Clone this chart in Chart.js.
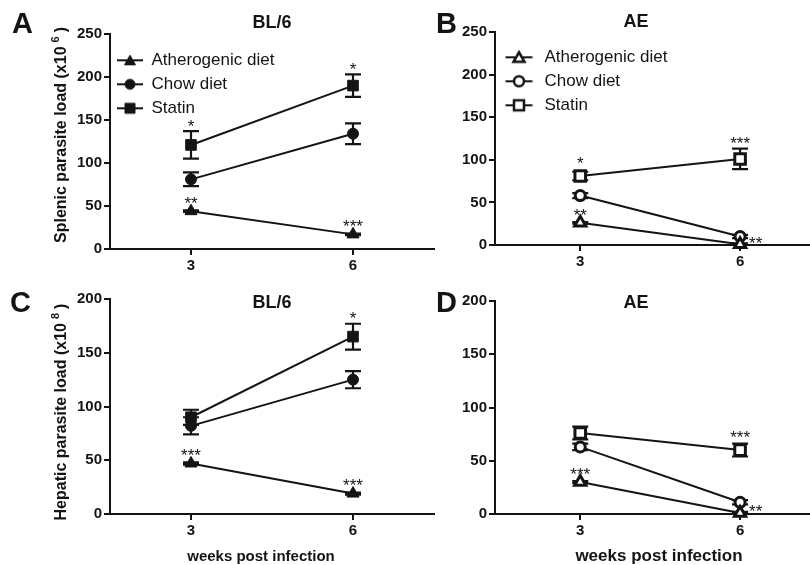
<!DOCTYPE html>
<html>
<head>
<meta charset="utf-8">
<script src="https://cdn.jsdelivr.net/npm/chart.js@4.4.1/dist/chart.umd.min.js"></script>
<style>
  html, body { margin: 0; padding: 0; background: #fff; }
  #wrap { position: relative; width: 810px; height: 565px; overflow: hidden; }
  #wrap canvas { position: absolute; left: 0; top: 0; }
</style>
</head>
<body>
<div id="wrap">
  <canvas id="cA" width="830" height="565"></canvas>
  <canvas id="cB" width="830" height="565"></canvas>
  <canvas id="cC" width="830" height="565"></canvas>
  <canvas id="cD" width="830" height="565"></canvas>
</div>
<script>
const weeks = [3, 6];
const seriesNames = ['Atherogenic diet', 'Chow diet', 'Statin'];
const spleenTicks = [0, 50, 100, 150, 200, 250];
const liverTicks = [0, 50, 100, 150, 200];

// rows: atherogenic, chow, statin -- columns: week 3, week 6
const spleenBL6 = [[44, 17], [81, 134], [121, 190]];
const spleenBL6Err = [[1, 1], [8, 12], [16, 13]];
const spleenBL6Sig = [['**', '***'], ['', ''], ['*', '*']];

const spleenAE = [[26, 1], [58, 10], [81, 101]];
const spleenAEErr = [[1, 1], [3, 2], [5, 12]];
const spleenAESig = [['**', '**'], ['', ''], ['*', '***']];

const liverBL6 = [[47, 19], [82, 125], [90, 165]];
const liverBL6Err = [[1, 1], [8, 8], [7, 12]];
const liverBL6Sig = [['***', '***'], ['', ''], ['', '*']];

const liverAE = [[30, 1], [63, 11], [76, 60]];
const liverAEErr = [[1, 1], [3, 2], [6, 6]];
const liverAESig = [['***', '**'], ['', ''], ['', '***']];

const FONT = "'Liberation Sans', Arial, sans-serif";
const INK = '#141414';
const styles = ['triangle', 'circle', 'rect'];

// panel layout (pixels on the page)
const panels = [
  { id: 'cA', letter: 'A', letterPos: [12, 33], title: 'BL/6', titleX: 272, titleY: 28,
    vals: spleenBL6, errs: spleenBL6Err, sig: spleenBL6Sig, ticks: spleenTicks, open: false,
    area: { l: 110, t: 34, r: 434, b: 249 }, xmin: 1.5, xmax: 7.5, legend: true, legendBox: 26, legendTop: 34,
    ytitle: ['Splenic parasite load (x10', '6', ')'], ytitleC: [62, 135] },
  { id: 'cB', letter: 'B', letterPos: [436, 33], title: 'AE', titleX: 636, titleY: 27,
    vals: spleenAE, errs: spleenAEErr, sig: spleenAESig, ticks: spleenTicks, open: true,
    area: { l: 495, t: 32, r: 820, b: 245 }, xmin: 1.4, xmax: 7.5, legend: true, legendBox: 34, legendTop: 31 },
  { id: 'cC', letter: 'C', letterPos: [10, 312], title: 'BL/6', titleX: 272, titleY: 308,
    vals: liverBL6, errs: liverBL6Err, sig: liverBL6Sig, ticks: liverTicks, open: false,
    area: { l: 110, t: 299, r: 434, b: 514 }, xmin: 1.5, xmax: 7.5, legend: false,
    ytitle: ['Hepatic parasite load (x10', '8', ')'], ytitleC: [62, 412],
    xtitle: 'weeks post infection', xtitlePos: [261, 561], xtitleSize: 15 },
  { id: 'cD', letter: 'D', letterPos: [436, 312], title: 'AE', titleX: 636, titleY: 308,
    vals: liverAE, errs: liverAEErr, sig: liverAESig, ticks: liverTicks, open: true,
    area: { l: 495, t: 301, r: 820, b: 514 }, xmin: 1.4, xmax: 7.5, legend: false,
    xtitle: 'weeks post infection', xtitlePos: [659, 561], xtitleSize: 17 }
];

function pointSize(style, open) {
  if (style === 'rect') return 7.5;
  if (style === 'triangle') return open ? 6.5 : 7;
  return open ? 5 : 5.5;
}

function makeIcon(style, open, w) {
  const c = document.createElement('canvas');
  c.width = w; c.height = 16;
  const g = c.getContext('2d');
  const cx = w / 2;
  g.strokeStyle = INK;
  g.lineWidth = 2;
  g.beginPath(); g.moveTo(cx - 13.5, 8); g.lineTo(cx + 13.5, 8); g.stroke();
  g.fillStyle = open ? '#fff' : INK;
  g.lineWidth = open ? 2.5 : 1;
  g.beginPath();
  if (style === 'triangle') { g.moveTo(cx, 3); g.lineTo(cx + 5.5, 12.5); g.lineTo(cx - 5.5, 12.5); g.closePath(); }
  else if (style === 'circle') g.arc(cx, 8, 5, 0, Math.PI * 2);
  else g.rect(cx - 5, 3, 10, 10);
  g.fill(); g.stroke();
  return c;
}

function makeDecor(p) {
  return {
    id: 'decor' + p.letter,
    beforeDatasetsDraw(chart) {
      const ctx = chart.ctx, xs = chart.scales.x, ys = chart.scales.y;
      ctx.save();
      ctx.strokeStyle = INK;
      ctx.lineWidth = 2.2;
      chart.data.datasets.forEach(ds => {
        ds.data.forEach((pt, j) => {
          const e = ds.errors[j];
          if (!e) return;
          const x = xs.getPixelForValue(pt.x);
          const y1 = ys.getPixelForValue(pt.y + e);
          const y0 = ys.getPixelForValue(Math.max(0, pt.y - e));
          ctx.beginPath();
          ctx.moveTo(x, y1); ctx.lineTo(x, y0);
          ctx.moveTo(x - 8, y1); ctx.lineTo(x + 8, y1);
          ctx.moveTo(x - 8, y0); ctx.lineTo(x + 8, y0);
          ctx.stroke();
        });
      });
      ctx.restore();
    },
    afterDatasetsDraw(chart) {
      // significance stars
      const ctx = chart.ctx, xs = chart.scales.x, ys = chart.scales.y;
      ctx.save();
      ctx.font = '17px ' + FONT;
      ctx.fillStyle = INK;
      ctx.textBaseline = 'alphabetic';
      chart.data.datasets.forEach(ds => {
        ds.data.forEach((pt, j) => {
          const s = ds.sig[j];
          if (!s) return;
          const x = xs.getPixelForValue(pt.x), y = ys.getPixelForValue(pt.y);
          if (pt.y < 3) {
            ctx.textAlign = 'left';
            ctx.fillText(s, x + 9, y + 4.5);
            return;
          }
          const top = Math.min(ys.getPixelForValue(pt.y + ds.errors[j]), y - ds.pointRadius);
          const gap = ds.pointStyle === 'triangle' ? 5 : 9;
          ctx.textAlign = 'center';
          ctx.fillText(s, x, top - gap + 9.7);
        });
      });
      ctx.restore();
    },
    afterDraw(chart) {
      const ctx = chart.ctx;
      ctx.save();
      ctx.fillStyle = INK;
      ctx.textBaseline = 'alphabetic';
      ctx.textAlign = 'left';
      ctx.font = 'bold 29px ' + FONT;
      ctx.fillText(p.letter, p.letterPos[0], p.letterPos[1]);
      ctx.textAlign = 'center';
      ctx.font = 'bold 18px ' + FONT;
      ctx.fillText(p.title, p.titleX, p.titleY);
      if (p.xtitle) {
        ctx.font = 'bold ' + p.xtitleSize + 'px ' + FONT;
        ctx.fillText(p.xtitle, p.xtitlePos[0], p.xtitlePos[1]);
      }
      if (p.ytitle) {
        const big = 'bold 16px ' + FONT, small = 'bold 11px ' + FONT;
        ctx.font = big;
        const w0 = ctx.measureText(p.ytitle[0]).width;
        const w2 = ctx.measureText(p.ytitle[2]).width;
        ctx.font = small;
        const w1 = ctx.measureText(p.ytitle[1]).width;
        const gap = 4;
        const total = w0 + gap + w1 + gap + w2;
        ctx.translate(p.ytitleC[0], p.ytitleC[1]);
        ctx.rotate(-Math.PI / 2);
        ctx.textAlign = 'left';
        ctx.textBaseline = 'middle';
        let x = -total / 2;
        ctx.font = big;
        ctx.fillText(p.ytitle[0], x, 0);
        x += w0 + gap;
        ctx.font = small;
        ctx.fillText(p.ytitle[1], x, -6);
        x += w1 + gap;
        ctx.font = big;
        ctx.fillText(p.ytitle[2], x, 0);
      }
      ctx.restore();
    }
  };
}

panels.forEach(p => {
  const icons = styles.map(s => makeIcon(s, p.open, p.legendBox));
  const datasets = seriesNames.map((name, i) => ({
    label: name,
    data: weeks.map((w, j) => ({ x: w, y: p.vals[i][j] })),
    errors: p.errs[i],
    sig: p.sig[i],
    borderColor: INK,
    borderWidth: 2,
    pointStyle: styles[i],
    pointRadius: pointSize(styles[i], p.open),
    pointBackgroundColor: p.open ? '#fff' : INK,
    pointBorderColor: INK,
    pointBorderWidth: p.open ? 3 : 1,
    tension: 0,
    fill: false,
    clip: false
  }));

  const tickFont = { family: FONT, size: 15, weight: 'bold' };
  new Chart(document.getElementById(p.id), {
    type: 'line',
    data: { datasets },
    options: {
      responsive: false,
      animation: false,
      events: [],
      layout: {
        autoPadding: false,
        padding: { left: p.area.l - 40, top: p.area.t, right: 830 - p.area.r, bottom: 565 - p.area.b - 30 }
      },
      scales: {
        x: {
          type: 'linear',
          min: p.xmin, max: p.xmax,
          afterBuildTicks: s => { s.ticks = weeks.map(v => ({ value: v })); },
          afterFit: s => { s.height = 30; },
          grid: { drawOnChartArea: false, tickLength: 6, lineWidth: 2, color: INK },
          border: { display: true, width: 2, color: INK },
          ticks: { font: tickFont, color: INK, padding: 2, maxRotation: 0 }
        },
        y: {
          min: p.ticks[0], max: p.ticks[p.ticks.length - 1],
          afterBuildTicks: s => { s.ticks = p.ticks.map(v => ({ value: v })); },
          afterFit: s => { s.width = 40; },
          grid: { drawOnChartArea: false, tickLength: 6, lineWidth: 2, color: INK },
          border: { display: true, width: 2, color: INK },
          ticks: { font: tickFont, color: INK, padding: 2 }
        }
      },
      plugins: {
        tooltip: { enabled: false },
        legend: {
          display: p.legend,
          position: 'chartArea',
          align: 'start',
          // the legend box sits at the canvas top, so the (blank) title pushes the rows down
          title: { display: true, text: ' ', font: { size: 9 }, padding: { top: p.legendTop || 0, bottom: 0 } },
          labels: {
            usePointStyle: true,
            pointStyleWidth: p.legendBox,
            padding: 7,
            color: INK,
            font: { family: FONT, size: 17 },
            generateLabels: chart => chart.data.datasets.map((d, i) => ({
              text: d.label, pointStyle: icons[i], fillStyle: INK, strokeStyle: INK, fontColor: INK,
              lineWidth: 0, hidden: false, datasetIndex: i
            }))
          }
        }
      }
    },
    plugins: [makeDecor(p)]
  });
});
</script>
</body>
</html>
